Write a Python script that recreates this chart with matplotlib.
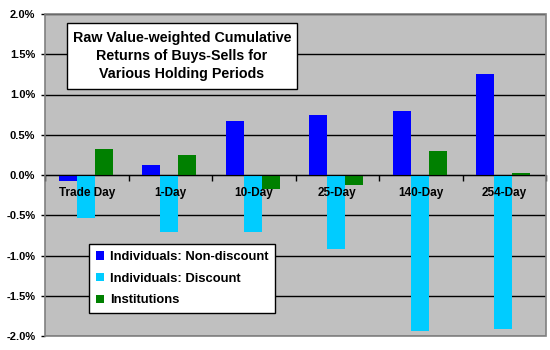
import matplotlib.pyplot as plt
from matplotlib.patches import Rectangle
import numpy as np

plt.rcParams['font.family'] = ['Liberation Sans', 'DejaVu Sans']

periods = ['Trade Day', '1-Day', '10-Day', '25-Day', '140-Day', '254-Day']
non_discount = [-0.08, 0.12, 0.675, 0.74, 0.80, 1.26]
discount = [-0.53, -0.71, -0.71, -0.925, -1.94, -1.91]
institutions = [0.325, 0.25, -0.175, -0.125, 0.30, 0.025]

series = [
    ('Individuals: Non-discount', non_discount, '#0000FF'),
    ('Individuals: Discount', discount, '#00CCFF'),
    ('Institutions', institutions, '#008000'),
]

W, H = 550, 350
L, B, PW, PH = 45, 14, 501, 322   # plot area in pixels (from top)

fig = plt.figure(figsize=(5.5, 3.5), dpi=100)
ax = fig.add_axes([L / W, (H - B - PH) / H, PW / W, PH / H])
ax.set_facecolor('#C0C0C0')

def ax_frac(px, py):
    # pixel position (from top-left of figure) -> axes fraction
    return (px - L) / PW, (B + PH - py) / PH

x = np.arange(len(periods))
w = 0.215
for i, (name, vals, col) in enumerate(series):
    ax.bar(x + (i - 1) * w - 0.01, vals, w, color=col, label=name, zorder=3)

ax.set_xlim(-0.5, len(periods) - 0.5)
ax.set_ylim(-2.0, 2.0)
yt = np.arange(-2.0, 2.01, 0.5)
ax.set_yticks(yt)
ax.set_yticklabels(['%.1f%%' % v for v in yt], fontsize=8, fontweight='bold')
ax.yaxis.grid(True, color='black', lw=1, zorder=1)
ax.tick_params(axis='y', length=3, width=1, pad=4)

# zero line as category axis
ax.spines['bottom'].set_position(('data', 0))
ax.spines['bottom'].set_zorder(4)
ax.set_xticks(np.arange(len(periods) + 1) - 0.5)
ax.set_xticklabels([])
ax.tick_params(axis='x', length=4, width=1, direction='out')
for s in ['top', 'right', 'left']:
    ax.spines[s].set_visible(False)
ax.add_patch(Rectangle((0, 0), 1, 1, transform=ax.transAxes, fill=False,
                       ec='#808080', lw=1.2, zorder=5, clip_on=False))

for xi, p in zip(x, periods):
    ax.text(xi, -0.22, p, ha='center', va='center', fontsize=8.5,
            fontweight='bold', zorder=6)

# title box
x0, y1 = ax_frac(67, 89)
x1, y0 = ax_frac(297, 23)
ax.add_patch(Rectangle((x0, y1), x1 - x0, y0 - y1, transform=ax.transAxes,
                       fc='white', ec='black', lw=1, zorder=6))
ax.text((x0 + x1) / 2, (y0 + y1) / 2,
        'Raw Value-weighted Cumulative\nReturns of Buys-Sells for\nVarious Holding Periods',
        transform=ax.transAxes, ha='center', va='center', fontsize=10.3,
        fontweight='bold', linespacing=1.35, zorder=7)

lx, ly = ax_frac(89, 313)
leg = ax.legend(loc='lower left', bbox_to_anchor=(lx, ly),
                prop={'size': 9.4, 'weight': 'bold'},
                frameon=True, fancybox=False, edgecolor='black', framealpha=1,
                handlelength=0.65, handleheight=0.65, handletextpad=0.45,
                borderpad=0.5, labelspacing=0.75, borderaxespad=0)
leg.get_frame().set_linewidth(1)
leg.set_zorder(7)

fig.savefig('out.png', dpi=100)
